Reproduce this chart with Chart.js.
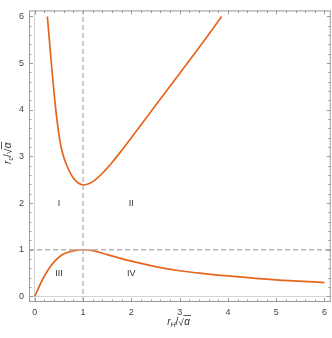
<!DOCTYPE html>
<html>
<head>
  <meta charset="UTF-8">
  <title>r_c vs r_H</title>
  <script src="https://cdn.jsdelivr.net/npm/chart.js"></script>
  <style>
    html, body { margin: 0; padding: 0; background: #fff; }
    #wrap { width: 332px; height: 338px; }
  </style>
</head>
<body>
  <div id="wrap"><canvas id="c" width="332" height="338"></canvas></div>

  <script>
    // values
    const upperX = [0.26, 0.30, 0.34, 0.40, 0.46, 0.53, 0.60, 0.70, 0.80, 0.90, 1.0, 1.1, 1.2, 1.3, 1.4, 1.5, 1.6, 1.8, 2.0, 2.5, 3.0, 3.5, 3.87];
    const upperY = [6.0, 5.52, 5.03, 4.35, 3.78, 3.28, 2.98, 2.72, 2.53, 2.43, 2.39, 2.41, 2.46, 2.54, 2.64, 2.75, 2.87, 3.13, 3.40, 4.09, 4.78, 5.47, 6.0];
    const lowerX = [0, 0.145, 0.28, 0.42, 0.56, 0.70, 0.84, 1.0, 1.1, 1.2, 1.35, 1.5, 1.76, 2.0, 2.5, 3.0, 3.5, 4.0, 5.0, 6.0];
    const lowerY = [0, 0.33, 0.575, 0.76, 0.886, 0.952, 0.988, 1.0, 0.995, 0.98, 0.94, 0.895, 0.82, 0.755, 0.64, 0.55, 0.49, 0.44, 0.355, 0.297];

    const xTicks = [0, 1, 2, 3, 4, 5, 6];
    const yTicks = [0, 1, 2, 3, 4, 5, 6];
    const refX = 1, refY = 1;
    const xMin = -0.12, xMax = 6.13, yMin = -0.12, yMax = 6.13;

    const regionNames = ['I', 'II', 'III', 'IV'];
    const regionX = [0.5, 2, 0.5, 2];
    const regionY = [2, 2, 0.5, 0.5];

    const curveColor = '#e5661d';
    const dashColor = '#b4b4b4';
    const frameColor = '#9a9a9a';

    const pts = (xs, ys) => xs.map((x, i) => ({ x: x, y: ys[i] }));

    function drawMath(ctx, sub, cx, cy) {
      const big = 'italic 10px "Liberation Sans", sans-serif';
      const small = 'italic 7px "Liberation Sans", sans-serif';
      const plain = '10px "Liberation Sans", sans-serif';
      ctx.font = big; const wr = ctx.measureText('r').width;
      ctx.font = small; const ws = ctx.measureText(sub).width;
      ctx.font = plain; const wsl = ctx.measureText('/').width; const wq = ctx.measureText('\u221A').width;
      ctx.font = big; const wa = ctx.measureText('\u03B1').width;
      const total = wr + ws + wsl + wq + wa + 1;
      let x = cx - total / 2;
      ctx.textBaseline = 'alphabetic';
      ctx.textAlign = 'left';
      ctx.fillStyle = '#333';
      ctx.font = big; ctx.fillText('r', x, cy + 3); x += wr;
      ctx.font = small; ctx.fillText(sub, x, cy + 5); x += ws;
      ctx.font = plain; ctx.fillText('/', x, cy + 3); x += wsl;
      ctx.fillText('\u221A', x, cy + 4); x += wq;
      ctx.font = big; ctx.fillText('\u03B1', x + 0.5, cy + 3);
      ctx.strokeStyle = '#333'; ctx.lineWidth = 0.8;
      ctx.beginPath(); ctx.moveTo(x - 0.5, cy - 6.5); ctx.lineTo(x + wa + 1.5, cy - 6.5); ctx.stroke();
    }

    const decor = {
      id: 'decor',
      afterDraw(chart) {
        const ctx = chart.ctx, a = chart.chartArea;
        const xs = chart.scales.x, ys = chart.scales.y;
        ctx.save();
        // frame
        ctx.strokeStyle = frameColor; ctx.lineWidth = 1;
        ctx.strokeRect(a.left + 0.5, a.top + 0.5, a.right - a.left - 1, a.bottom - a.top - 1);
        // inward ticks on all four sides
        ctx.beginPath();
        for (let i = 0; i < xTicks.length; i++) {
          for (let k = 0; k < 5; k++) {
            const v = xTicks[i] + k * 0.2;
            if (v > xTicks[xTicks.length - 1]) break;
            const p = Math.round(xs.getPixelForValue(v)) + 0.5;
            const len = k === 0 ? 4 : 2.5;
            ctx.moveTo(p, a.bottom); ctx.lineTo(p, a.bottom - len);
            ctx.moveTo(p, a.top); ctx.lineTo(p, a.top + len);
          }
        }
        for (let i = 0; i < yTicks.length; i++) {
          for (let k = 0; k < 5; k++) {
            const v = yTicks[i] + k * 0.2;
            if (v > yTicks[yTicks.length - 1]) break;
            const p = Math.round(ys.getPixelForValue(v)) + 0.5;
            const len = k === 0 ? 4 : 2.5;
            ctx.moveTo(a.left, p); ctx.lineTo(a.left + len, p);
            ctx.moveTo(a.right, p); ctx.lineTo(a.right - len, p);
          }
        }
        ctx.stroke();
        // region labels
        ctx.fillStyle = '#333';
        ctx.font = '9px "Liberation Sans", sans-serif';
        ctx.textAlign = 'center'; ctx.textBaseline = 'middle';
        regionNames.forEach((n, i) => {
          ctx.fillText(n, xs.getPixelForValue(regionX[i]), ys.getPixelForValue(regionY[i]));
        });
        // axis titles
        drawMath(ctx, 'H', (a.left + a.right) / 2 - 1, 322);
        ctx.translate(8, 153);
        ctx.rotate(-Math.PI / 2);
        drawMath(ctx, 'c', 0, 0);
        ctx.restore();
      }
    };

    const fixX = s => { s.height = 36; };
    const fixY = s => { s.width = 29; };

    new Chart(document.getElementById('c'), {
      type: 'scatter',
      data: {
        datasets: [
          {
            data: [{ x: refX, y: yMin }, { x: refX, y: yMax }],
            showLine: true, borderColor: dashColor, borderWidth: 1.3, borderDash: [5, 3],
            pointRadius: 0
          },
          {
            data: [{ x: xMin, y: refY }, { x: xMax, y: refY }],
            showLine: true, borderColor: dashColor, borderWidth: 1.3, borderDash: [5, 3],
            pointRadius: 0
          },
          {
            data: pts(upperX, upperY),
            showLine: true, borderColor: curveColor, borderWidth: 1.7,
            cubicInterpolationMode: 'monotone', pointRadius: 0
          },
          {
            data: pts(lowerX, lowerY),
            showLine: true, borderColor: curveColor, borderWidth: 1.7,
            cubicInterpolationMode: 'monotone', pointRadius: 0
          }
        ]
      },
      options: {
        responsive: false,
        animation: false,
        layout: { padding: { top: 1, right: 1, left: 0, bottom: 0 } },
        plugins: { legend: { display: false }, tooltip: { enabled: false } },
        scales: {
          x: {
            type: 'linear', min: xMin, max: xMax,
            afterBuildTicks: s => { s.ticks = xTicks.map(v => ({ value: v })); },
            afterFit: fixX,
            border: { display: false },
            grid: { drawTicks: false, color: c => c.tick && c.tick.value === 0 ? '#d4d4d4' : 'transparent' },
            ticks: { padding: 5, color: '#444', font: { family: 'Liberation Sans', size: 9 } }
          },
          y: {
            type: 'linear', min: yMin, max: yMax,
            afterBuildTicks: s => { s.ticks = yTicks.map(v => ({ value: v })); },
            afterFit: fixY,
            border: { display: false },
            grid: { drawTicks: false, color: c => c.tick && c.tick.value === 0 ? '#d4d4d4' : 'transparent' },
            ticks: { padding: 5, color: '#444', font: { family: 'Liberation Sans', size: 9 } }
          }
        }
      },
      plugins: [decor]
    });
  </script>
</body>
</html>
